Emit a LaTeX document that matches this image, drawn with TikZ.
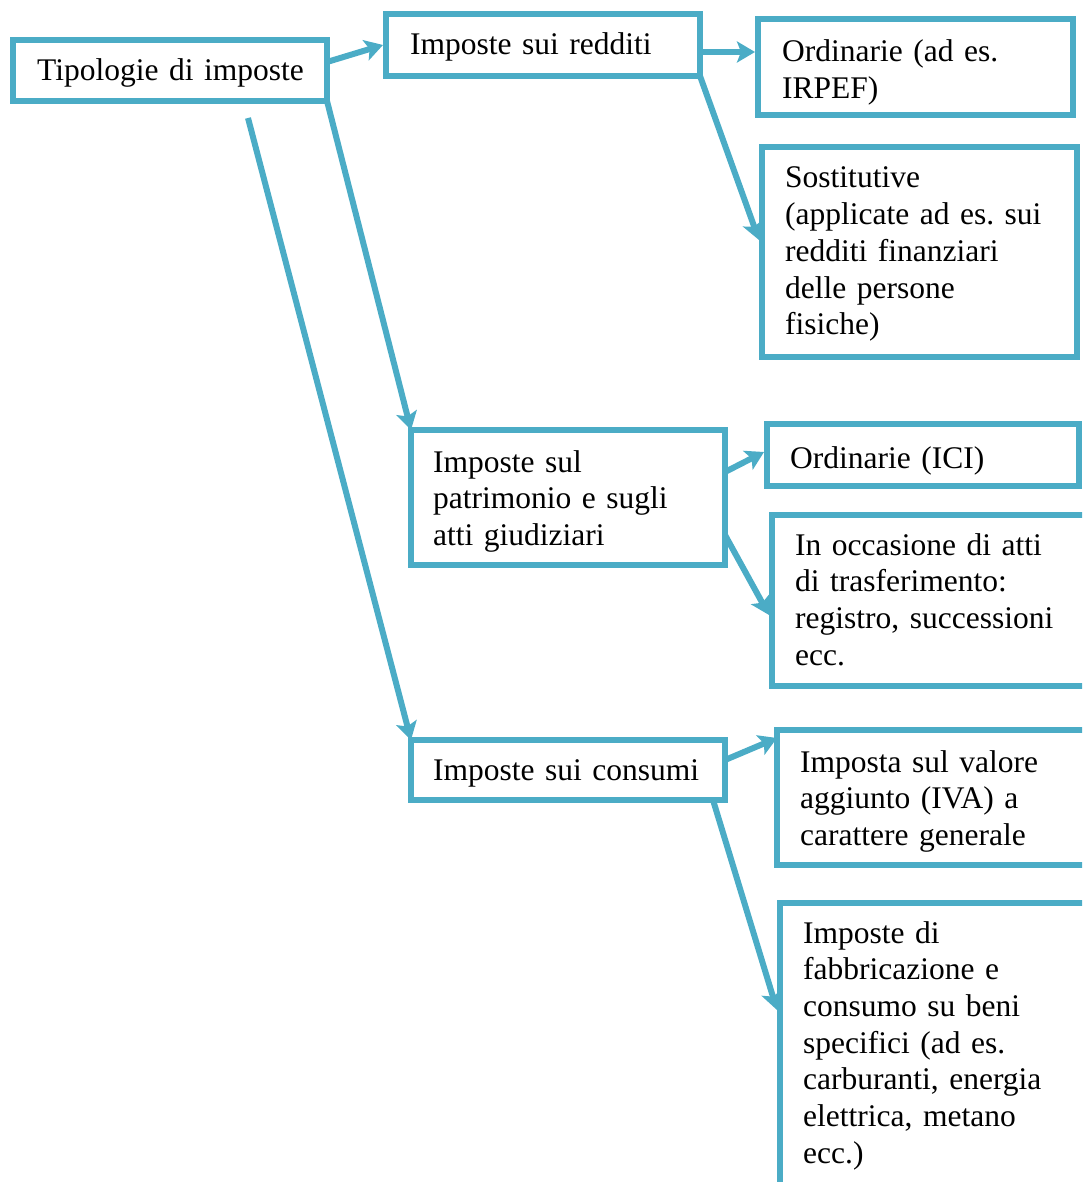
\documentclass[tikz,border=0pt]{standalone}
\usepackage{fontspec}
\setmainfont{Liberation Serif}
\usetikzlibrary{arrows.meta,calc,fit}

\definecolor{taxblue}{RGB}{75,172,198}

\tikzset{
	frame/.style={draw=taxblue, line width=6pt, inner sep=0pt, outer sep=0pt},
	boxtext/.style={anchor=base west, inner sep=0pt, text width=300pt, align=left,
		font=\fontsize{31.5}{36.7}\selectfont\frenchspacing},
	link/.style={draw=taxblue, line width=6pt, -{Stealth[length=18pt,width=21pt,inset=4pt]}},
}

\begin{document}
\begin{tikzpicture}[x=1pt,y=-1pt]
\useasboundingbox (0,0) rectangle (1082,1182);
\clip (0,0) rectangle (1082,1182);

\node[frame, fit={(13,40) (327,101)}] (tip) {};
\node[frame, fit={(386,14) (700,76)}] (redd) {};
\node[frame, fit={(758,19) (1073,115)}] (ordA) {};
\node[frame, fit={(762,147) (1077,357)}] (sost) {};
\node[frame, fit={(411,430) (725,565)}] (patr) {};
\node[frame, fit={(767,424) (1079,486)}] (ici) {};
\node[frame, fit={(772,515) (1095,686)}] (occ) {};
\node[frame, fit={(411,740) (725,800)}] (cons) {};
\node[frame, fit={(777,730) (1095,865)}] (iva) {};
\node[frame, fit={(780,903) (1095,1195)}] (fab) {}; % esce dal foglio

\node[boxtext] (tipT) at ($(tip.north west)+(24,41)$) {Tipologie di imposte};
\node[boxtext] (reddT) at ($(redd.north west)+(24,41)$) {Imposte sui redditi};
\node[boxtext] (ordAT) at ($(ordA.north west)+(24,43)$) {Ordinarie (ad es.\\IRPEF)};
\node[boxtext] (sostT) at ($(sost.north west)+(23,41)$) {Sostitutive\\(applicate ad es. sui\\redditi finanziari\\delle persone\\fisiche)};
\node[boxtext] (patrT) at ($(patr.north west)+(22,42)$) {Imposte sul\\patrimonio e sugli\\atti giudiziari};
\node[boxtext] (iciT) at ($(ici.north west)+(23,44)$) {Ordinarie (ICI)};
\node[boxtext] (occT) at ($(occ.north west)+(23,40)$) {In occasione di atti\\di trasferimento:\\registro, successioni\\ecc.};
\node[boxtext] (consT) at ($(cons.north west)+(22,40)$) {Imposte sui consumi};
\node[boxtext] (ivaT) at ($(iva.north west)+(23,42)$) {Imposta sul valore\\aggiunto (IVA) a\\carattere generale};
\node[boxtext] (fabT) at ($(fab.north west)+(23,40)$) {Imposte di\\fabbricazione e\\consumo su beni\\specifici (ad es.\\carburanti, energia\\elettrica, metano\\ecc.)};

\coordinate (tail) at (248,118);

\draw[link] ($(tip.north east)+(0,22)$) -- ($(redd.west)+(-3,0)$);
\draw[link] ($(redd.north east)+(0,38)$) -- ($(ordA.north west)+(-3,33)$);
\draw[link] (redd.south east) -- ($(sost.north west)+(-3,93)$);
\draw[link] (tip.south east) -- (patr.north west);
\draw[link] (tail) -- (cons.north west);
\draw[link] ($(patr.north east)+(0,42)$) -- ($(ici.north west)+(-3,28)$);
\draw[link] ($(patr.north east)+(0,105)$) -- ($(occ.north west)+(-3,100)$);
\draw[link] ($(cons.north east)+(0,20)$) -- ($(iva.north west)+(0,8)$);
\draw[link] ($(cons.south east)+(-12,0)$) -- ($(fab.north west)+(-3,107)$);
\end{tikzpicture}
\end{document}
